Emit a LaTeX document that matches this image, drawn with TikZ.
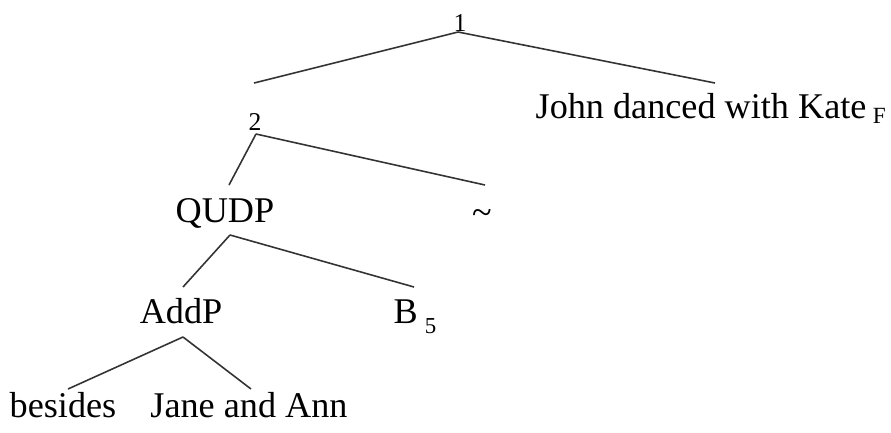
\documentclass[tikz,border=0pt]{standalone}
\usepackage{fontspec}
\setmainfont{Liberation Serif}
\usetikzlibrary{calc}

\begin{document}
\begin{tikzpicture}[x=0.1mm, y=-0.1mm,
  word/.style={inner sep=0pt, anchor=base, font=\fontsize{10.3}{12}\selectfont},
  idx/.style={inner sep=0pt, anchor=base, font=\fontsize{7.3}{9}\selectfont},
  branch/.style={draw=black!80, line width=0.45pt}]
  \useasboundingbox (0,0) rectangle (891,432);

  % labels
  \node[idx]  (n1)   at (460,31)  {1};
  \node[idx]  (n2)   at (255,130) {2};
  \node[word, anchor=base west] (john) at (535,118)
    {John danced with Kate\hspace{1.8pt}\raisebox{-1.5pt}{\fontsize{6.6}{8}\selectfont F}};
  \node[word] (qudp) at (225,222) {QUDP};
  \node[word] (til)  at (482,224) {\textasciitilde};
  \node[word] (addp) at (181,323) {AddP};
  \node[word, anchor=base west] (b5) at (393,323)
    {B\hspace{2pt}\raisebox{-3.1pt}{\fontsize{6.5}{8}\selectfont 5}};
  \node[word] (besides) at (63,417) {besides};
  \node[word] (jane)    at (249,417) {Jane and Ann};

  % branches
  \draw[branch] ($(n1.base)+(-2,1)$)   -- ($(n2.base)+(-1,-47)$);
  \draw[branch] ($(n1.base)+(-2,1)$)   -- ($(john.base west)+(180,-35)$);
  \draw[branch] ($(n2.base)+(1,4)$)    -- ($(qudp.base)+(4,-37)$);
  \draw[branch] ($(n2.base)+(1,4)$)    -- ($(til.base)+(3,-39)$);
  \draw[branch] ($(qudp.base)+(5,13)$) -- ($(addp.base)+(2,-36)$);
  \draw[branch] ($(qudp.base)+(5,13)$) -- ($(b5.base west)+(21,-36)$);
  \draw[branch] ($(addp.base)+(2,14)$) -- ($(besides.base)+(5,-28)$);
  \draw[branch] ($(addp.base)+(2,14)$) -- ($(jane.base)+(2,-28)$);
\end{tikzpicture}
\end{document}
